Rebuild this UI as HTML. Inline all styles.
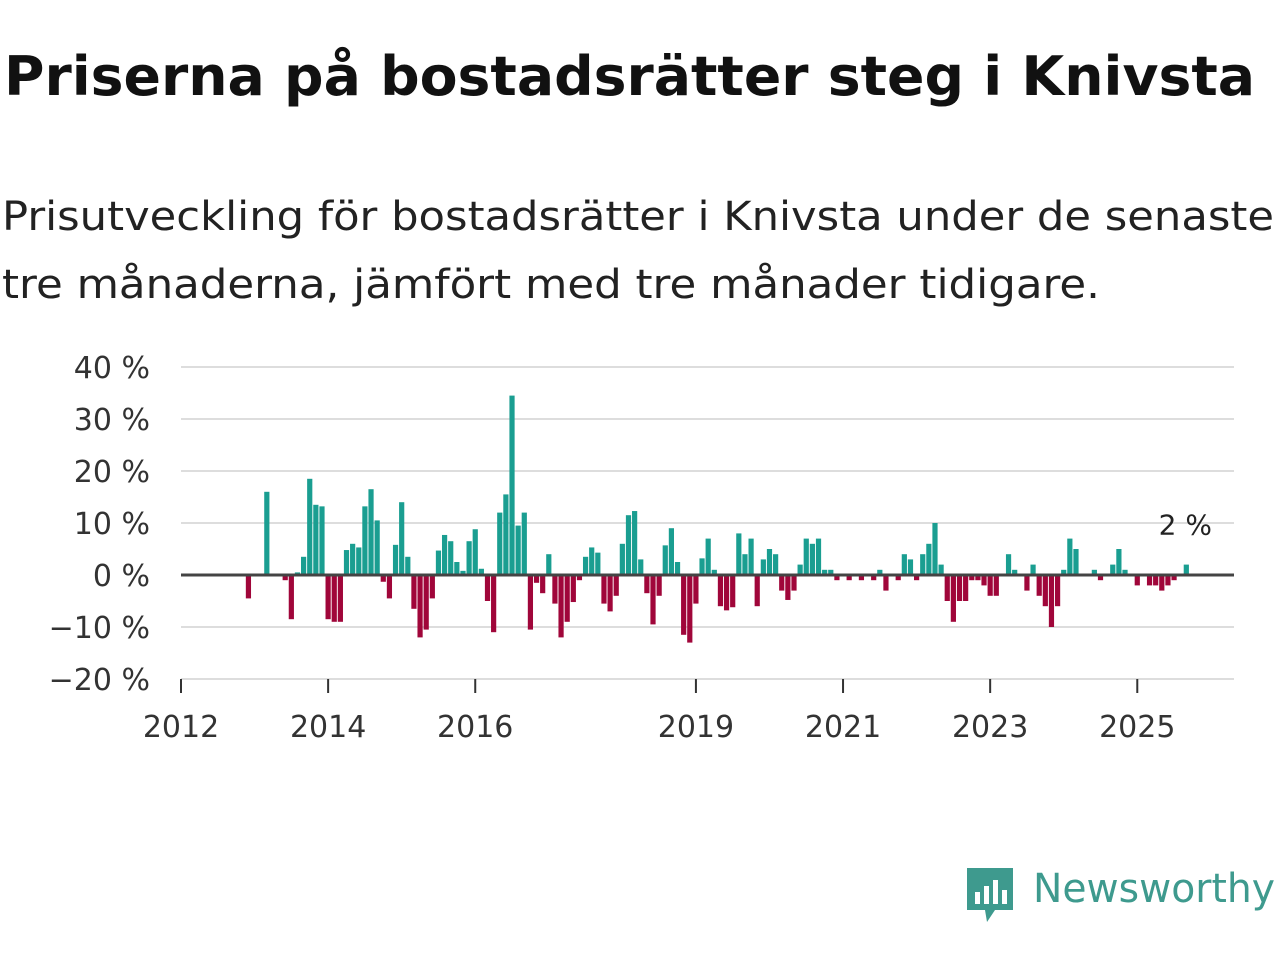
<!DOCTYPE html>
<html><head><meta charset="utf-8"><style>
body{margin:0;width:1280px;height:960px;background:#fff;font-family:"DejaVu Sans","Liberation Sans",sans-serif;overflow:hidden;position:relative}
.fit{position:absolute;white-space:nowrap;transform-origin:0 0;margin:0}
</style></head><body>
<div class="fit" id="t" data-w="1251" style="left:4px;top:45px;font-size:54px;font-weight:bold;color:#111">Priserna på bostadsrätter steg i Knivsta</div>
<div class="fit" id="s1" data-w="1272" style="left:2px;top:194px;font-size:40px;color:#222">Prisutveckling för bostadsrätter i Knivsta under de senaste</div>
<div class="fit" id="s2" data-w="1098" style="left:2px;top:262px;font-size:40px;color:#222">tre månaderna, jämfört med tre månader tidigare.</div>
<svg id="chart" width="1280" height="960" style="position:absolute;left:0;top:0"></svg>
<div style="position:absolute;left:965px;top:866px">
<svg width="50" height="58" viewBox="0 0 50 58"><path d="M2 2h46v42H30l-8 12-2-12H2z" fill="#3e9a8e"/><rect x="10" y="26" width="5" height="12" fill="#fff"/><rect x="19" y="20" width="5" height="18" fill="#fff"/><rect x="28" y="14" width="5" height="24" fill="#fff"/><rect x="37" y="24" width="5" height="14" fill="#fff"/></svg></div>
<div class="fit" id="lg" data-w="242" style="left:1033px;top:866px;font-size:40px;color:#3e9a8e">Newsworthy</div>
<script>
const monthIdx=[11,14,17,18,19,20,21,22,23,24,25,26,27,28,29,30,31,32,33,34,35,36,37,38,39,40,41,42,43,44,45,46,47,48,49,50,51,52,53,54,55,56,57,58,59,60,61,62,63,64,65,66,67,68,69,70,71,72,73,74,75,76,77,78,79,80,81,82,83,84,85,86,87,88,89,90,91,92,93,94,95,96,97,98,99,100,101,102,103,104,105,106,107,109,111,113,114,115,117,118,119,120,121,122,123,124,125,126,127,128,129,130,131,132,133,135,136,138,139,140,141,142,143,144,145,146,149,150,152,153,154,156,158,159,160,161,162,164];
const values=[-4.5,16,-1,-8.5,0.5,3.5,18.5,13.5,13.2,-8.5,-9,-9,4.8,6,5.3,13.2,16.5,10.5,-1.3,-4.5,5.8,14,3.5,-6.5,-12,-10.5,-4.5,4.7,7.7,6.5,2.5,0.8,6.5,8.8,1.2,-5,-11,12,15.5,34.5,9.5,12,-10.5,-1.5,-3.5,4,-5.5,-12,-9,-5.2,-1,3.5,5.3,4.3,-5.5,-7,-4,6,11.5,12.3,3,-3.5,-9.5,-4,5.7,9,2.5,-11.5,-13,-5.5,3.2,7,1,-6,-6.8,-6.2,8,4,7,-6,3,5,4,-3,-4.8,-3,2,7,6,7,1,1,-1,-1,-1,-1,1,-3,-1,4,3,-1,4,6,10,2,-5,-9,-5,-5,-1,-1,-2,-4,-4,4,1,-3,2,-4,-6,-10,-6,1,7,5,1,-1,2,5,1,-2,-2,-2,-3,-2,-1,2];
const yTicks=[40,30,20,10,0,-10,-20];
const yTickLabels=["40 %","30 %","20 %","10 %","0 %","−10 %","−20 %"];
const xYears=[2012,2014,2016,2019,2021,2023,2025];
document.querySelectorAll('.fit').forEach(el=>{const w=el.getBoundingClientRect().width;el.style.transform='scaleX('+(+el.dataset.w/w)+')';});
const svg=document.getElementById('chart');const NS='http://www.w3.org/2000/svg';
const x0=181,monthW=6.13,yZero=575,pxPer=5.2;
const xs=m=>x0+m*monthW;const ys=v=>yZero-v*pxPer;
function mk(t,a){const e=document.createElementNS(NS,t);for(const k in a)e.setAttribute(k,a[k]);svg.appendChild(e);return e;}
yTicks.forEach((v,i)=>{
 if(v!==0){const g=mk('line',{x1:181,x2:1234,y1:ys(v),y2:ys(v),stroke:'#ddd','stroke-width':2});
 
 }
 const t=mk('text',{x:150,y:ys(v)+11,'text-anchor':'end','font-size':30,fill:'#333'});t.textContent=yTickLabels[i];
 
 
});
monthIdx.forEach((m,i)=>{const v=values[i];
 const r=mk('rect',{x:xs(m)-2.6,width:5.2,y:v>=0?ys(v):yZero,height:Math.abs(v)*pxPer,fill:v>=0?'#1a9e91':'#a0063a'});
 
 
});
const z=mk('line',{x1:181,x2:1234,y1:yZero,y2:yZero,stroke:'#444','stroke-width':3});


const ax=mk('line',{x1:181,x2:1234,y1:679,y2:679,stroke:'#ddd','stroke-width':2});


xYears.forEach(y=>{const x=xs((y-2012)*12);
 const tk=mk('line',{x1:x,x2:x,y1:679,y2:693,stroke:'#333','stroke-width':2});
 
 
 const t=mk('text',{x:x,y:737,'text-anchor':'middle','font-size':30,fill:'#333'});t.textContent=y;
 
 
});
const lm=monthIdx[monthIdx.length-1],lv=values[values.length-1];
const lab=mk('text',{x:xs(lm)-1,y:ys(lv)-30,'text-anchor':'middle','font-size':28,fill:'#222'});lab.textContent=lv+' %';


</script>
</body></html>
